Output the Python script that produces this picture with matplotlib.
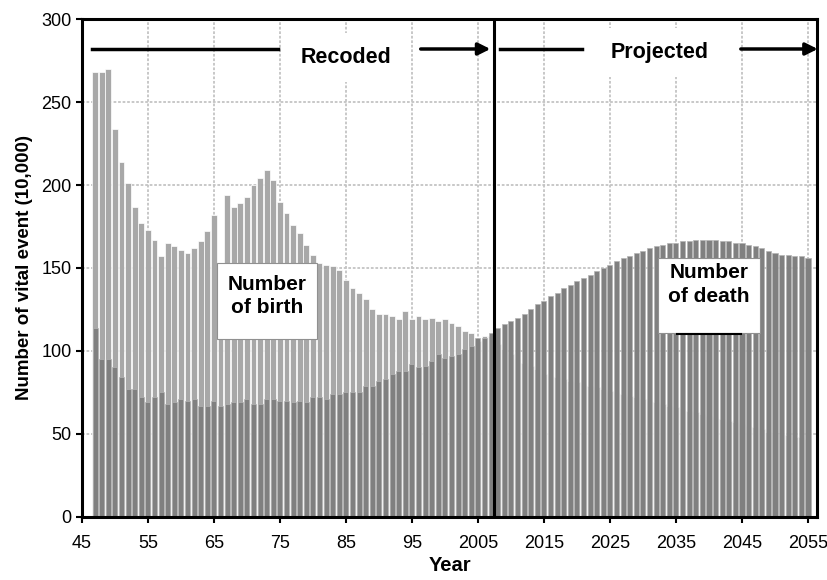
import matplotlib.pyplot as plt
import matplotlib.patches as mpatches
import numpy as np

plt.rcParams['font.family'] = ['Liberation Sans', 'DejaVu Sans']

# recorded 1947-2007, projected 2008-2055 (unit: 10,000)
years = np.arange(1947, 2056)
births = [268, 268, 270, 234, 214, 201, 187, 177, 173, 167,
          157, 165, 163, 161, 159, 162, 166, 172, 182, 136,
          194, 187, 189, 193, 200, 204, 209, 203, 190, 183,
          176, 171, 164, 158, 153, 152, 151, 149, 143, 138,
          135, 131, 125, 122, 122, 121, 119, 124, 119, 121,
          119, 120, 118, 119, 117, 115, 112, 111, 106, 109,
          109,
          104, 101, 98, 95, 93, 91, 89, 86, 85, 84,
          83, 82, 81, 80, 79, 78, 77, 76, 75, 74,
          73, 72, 71, 70, 69, 68, 67, 66, 65, 64,
          63, 62, 61, 60, 59, 58, 57, 56, 55, 54,
          53, 51, 50, 50, 49, 48, 48, 47]
deaths = [114, 95, 95, 90, 84, 77, 77, 72, 69, 72,
          75, 68, 69, 71, 70, 71, 67, 67, 70, 67,
          68, 69, 69, 71, 68, 68, 71, 71, 70, 70,
          69, 70, 69, 72, 72, 71, 74, 74, 75, 75,
          75, 79, 79, 82, 83, 86, 88, 88, 92, 90,
          91, 94, 98, 96, 97, 98, 101, 103, 108, 108,
          111,
          114, 116, 118, 120, 122, 125, 128, 130, 133, 135,
          138, 140, 142, 144, 146, 148, 150, 152, 154, 156,
          157, 159, 160, 162, 163, 164, 165, 165, 166, 166,
          167, 167, 167, 167, 166, 166, 165, 165, 164, 163,
          162, 160, 159, 158, 158, 157, 157, 156]
xticks = np.arange(1945, 2056, 10)
xtick_labels = ['45', '55', '65', '75', '85', '95',
                '2005', '2015', '2025', '2035', '2045', '2055']
split_year = 2007.5

fig = plt.figure(figsize=(8.28, 5.8), dpi=100)
ax = fig.add_axes([0.099, 0.109, 0.888, 0.858])

ax.bar(years, births, width=0.88, color='#a8a8a8', edgecolor='white',
       linewidth=0.5, zorder=2)
ax.bar(years, deaths, width=0.76, color='#808080', edgecolor='#b4b4b4',
       linewidth=0.5, zorder=3)

ax.set_xlim(1945, 2056.4)
ax.set_ylim(0, 300)
ax.set_xticks(xticks)
ax.set_xticklabels(xtick_labels)
ax.set_yticks(np.arange(0, 301, 50))
ax.grid(True, color='#c4c4c4', linestyle=(0, (1.5, 1)), linewidth=1.3,
        zorder=4)
ax.tick_params(labelsize=13, length=4, width=1.5, direction='out')
ax.tick_params(axis='x', pad=9)
for sp in ax.spines.values():
    sp.set_linewidth(2.2)
    sp.set_zorder(10)

ax.set_xlabel('Year', fontsize=14.5, fontweight='bold', labelpad=3)
ax.set_ylabel('Number of vital event (10,000)', fontsize=13.5,
              fontweight='bold', labelpad=6)

# split between recorded and projected
ax.axvline(split_year, color='black', linewidth=2.2, zorder=9)

# header arrows and labels
yarr = 282
ax.plot([1946.5, 1974.7], [yarr, yarr], color='black', lw=2.5, zorder=8)
ax.annotate('', xy=(split_year - 0.2, yarr), xytext=(1995.9, yarr),
            arrowprops=dict(arrowstyle='-|>', color='black', lw=2.5,
                            mutation_scale=18), zorder=8)
ax.text(1985, 277, 'Recoded', ha='center', va='center', fontsize=15.5,
        fontweight='bold', zorder=8,
        bbox=dict(facecolor='white', edgecolor='none', pad=10))
ax.plot([2008.3, 2020.8], [yarr, yarr], color='black', lw=2.5, zorder=8)
ax.annotate('', xy=(2056.9, yarr), xytext=(2044.4, yarr),
            arrowprops=dict(arrowstyle='-|>', color='black', lw=2.5,
                            mutation_scale=18),
            annotation_clip=False, zorder=8)
ax.text(2032.5, 280, 'Projected', ha='center', va='center', fontsize=15.5,
        fontweight='bold', zorder=8,
        bbox=dict(facecolor='white', edgecolor='none', pad=10))

# series labels
ax.add_patch(mpatches.Rectangle((1965.5, 107), 15.1, 46, facecolor='white',
                                edgecolor='#909090', lw=0.8, zorder=7))
ax.text(1973, 133, 'Number\nof birth', ha='center', va='center',
        fontsize=15, fontweight='bold', linespacing=1.3, zorder=8)
ax.add_patch(mpatches.Rectangle((2032.3, 111), 15.4, 45, facecolor='white',
                                edgecolor='#909090', lw=0.8, zorder=7))
ax.plot([2035.2, 2044.9], [110, 110], color='black', lw=1.5, zorder=8)
ax.text(2040, 140, 'Number\nof death', ha='center', va='center',
        fontsize=15, fontweight='bold', linespacing=1.3, zorder=8)

fig.savefig('out.png', dpi=100)
